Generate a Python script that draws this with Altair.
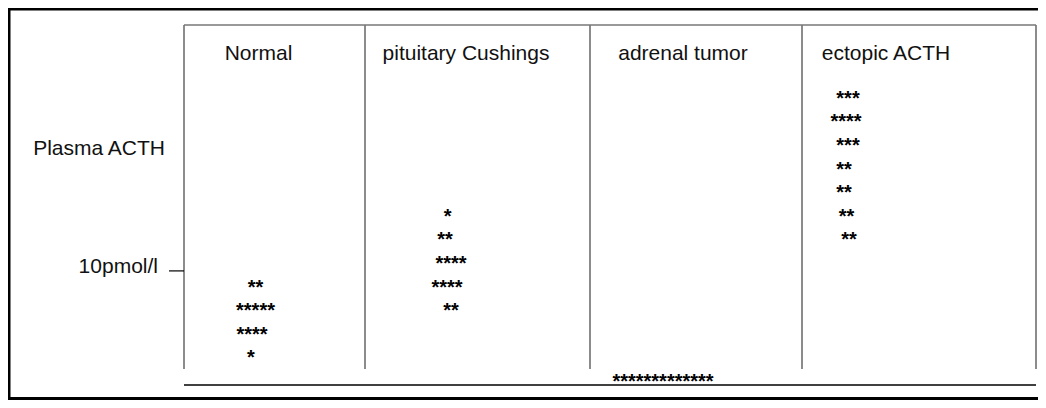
import altair as alt
import pandas as pd

FONT = "Liberation Sans"

# Column headers and table geometry (horizontal table units, 0 = left edge of table)
groups = ["Normal", "pituitary Cushings", "adrenal tumor", "ectopic ACTH"]
label_x = [74.5, 282, 499, 702]
col_edges = [0, 181, 406, 618, 852]

# Vertical axis in "row levels" (one level per row of asterisks)
header_level = 13.52
table_top = 15.0
table_bottom = 0.42
base_line = -0.25
ref_level = 4.58          # 10 pmol/l marker
ref_label = "10pmol/l"
axis_title = "Plasma ACTH"
axis_title_level = 9.49

# outer frame (in the same units)
frame_left = -175
frame_right = 854
frame_top = 15.68
frame_bottom = -0.83

# Asterisk rows: level, count and horizontal centre for each group
normal_levels = [4, 3, 2, 1]
normal_counts = [2, 5, 4, 1]
normal_x = [71.5, 71.5, 68, 67]

pituitary_levels = [7, 6, 5, 4, 3]
pituitary_counts = [1, 2, 4, 4, 2]
pituitary_x = [263.7, 261, 267, 263, 267]

adrenal_levels = [0]
adrenal_counts = [13]
adrenal_x = [479]

ectopic_levels = [12, 11, 10, 9, 8, 7, 6]
ectopic_counts = [3, 4, 3, 2, 2, 2, 2]
ectopic_x = [664, 662, 664, 660, 660, 662.5, 665]

rows = []
for g, lv, ct, xs_ in [
    (groups[0], normal_levels, normal_counts, normal_x),
    (groups[1], pituitary_levels, pituitary_counts, pituitary_x),
    (groups[2], adrenal_levels, adrenal_counts, adrenal_x),
    (groups[3], ectopic_levels, ectopic_counts, ectopic_x),
]:
    for l, c, x in zip(lv, ct, xs_):
        rows.append({"group": g, "y": l, "x": x, "stars": "*" * c})
stars_df = pd.DataFrame(rows)

xs = alt.Scale(domain=[-176, 854], nice=False, zero=False)
ys = alt.Scale(domain=[-0.89, 15.72], nice=False, zero=False)


def X(f="x"):
    return alt.X(f"{f}:Q", scale=xs, axis=None)


def Y(f="y"):
    return alt.Y(f"{f}:Q", scale=ys, axis=None)


frame_v = alt.Chart(pd.DataFrame({"x": [frame_left], "y": [frame_top], "y2": [frame_bottom]})).mark_rule(
    color="black", strokeWidth=3, strokeCap="square"
).encode(x=X(), y=Y(), y2="y2:Q")

frame_h = alt.Chart(pd.DataFrame({
    "x": [frame_left, frame_left], "x2": [frame_right, frame_right], "y": [frame_top, frame_bottom]
})).mark_rule(color="black", strokeWidth=3, strokeCap="square").encode(x=X(), x2="x2:Q", y=Y())

verticals = alt.Chart(pd.DataFrame({"x": col_edges, "y": [table_top] * 5, "y2": [table_bottom] * 5})).mark_rule(
    color="#666666", strokeWidth=1.5
).encode(x=X(), y=Y(), y2="y2:Q")

top_line = alt.Chart(pd.DataFrame({"x": [col_edges[0]], "x2": [col_edges[-1]], "y": [table_top]})).mark_rule(
    color="#777777", strokeWidth=1.5
).encode(x=X(), x2="x2:Q", y=Y())

bottom_line = alt.Chart(pd.DataFrame({"x": [col_edges[0]], "x2": [col_edges[-1]], "y": [base_line]})).mark_rule(
    color="black", strokeWidth=1.5
).encode(x=X(), x2="x2:Q", y=Y())

tick = alt.Chart(pd.DataFrame({"x": [-15], "x2": [0], "y": [ref_level]})).mark_rule(
    color="black", strokeWidth=1.2
).encode(x=X(), x2="x2:Q", y=Y())

headers = alt.Chart(pd.DataFrame({"x": label_x, "y": [header_level] * 4, "t": groups})).mark_text(
    font=FONT, fontSize=21, align="center", baseline="alphabetic", color="#111111"
).encode(x=X(), y=Y(), text="t:N")

title_label = alt.Chart(pd.DataFrame({"x": [-19], "y": [axis_title_level], "t": [axis_title]})).mark_text(
    font=FONT, fontSize=21, align="right", baseline="alphabetic", color="#111111"
).encode(x=X(), y=Y(), text="t:N")

ref_text = alt.Chart(pd.DataFrame({"x": [-26], "y": [ref_level], "t": [ref_label]})).mark_text(
    font=FONT, fontSize=21, align="right", baseline="alphabetic", dy=2, color="#111111"
).encode(x=X(), y=Y(), text="t:N")

stars = alt.Chart(stars_df).mark_text(
    font=FONT, fontSize=20, fontWeight="bold", align="center", baseline="alphabetic", dy=9, color="black"
).encode(x=X(), y=Y(), text="stars:N")

chart = alt.layer(
    frame_v, frame_h, verticals, top_line, bottom_line, tick, headers, title_label, ref_text, stars
).properties(
    width=1030, height=392,
    autosize=alt.AutoSizeParams(type="none"),
    padding=0,
    background="white",
).configure_view(stroke="transparent")

chart.save("out.html", embed_options={"renderer": "svg", "actions": False})
